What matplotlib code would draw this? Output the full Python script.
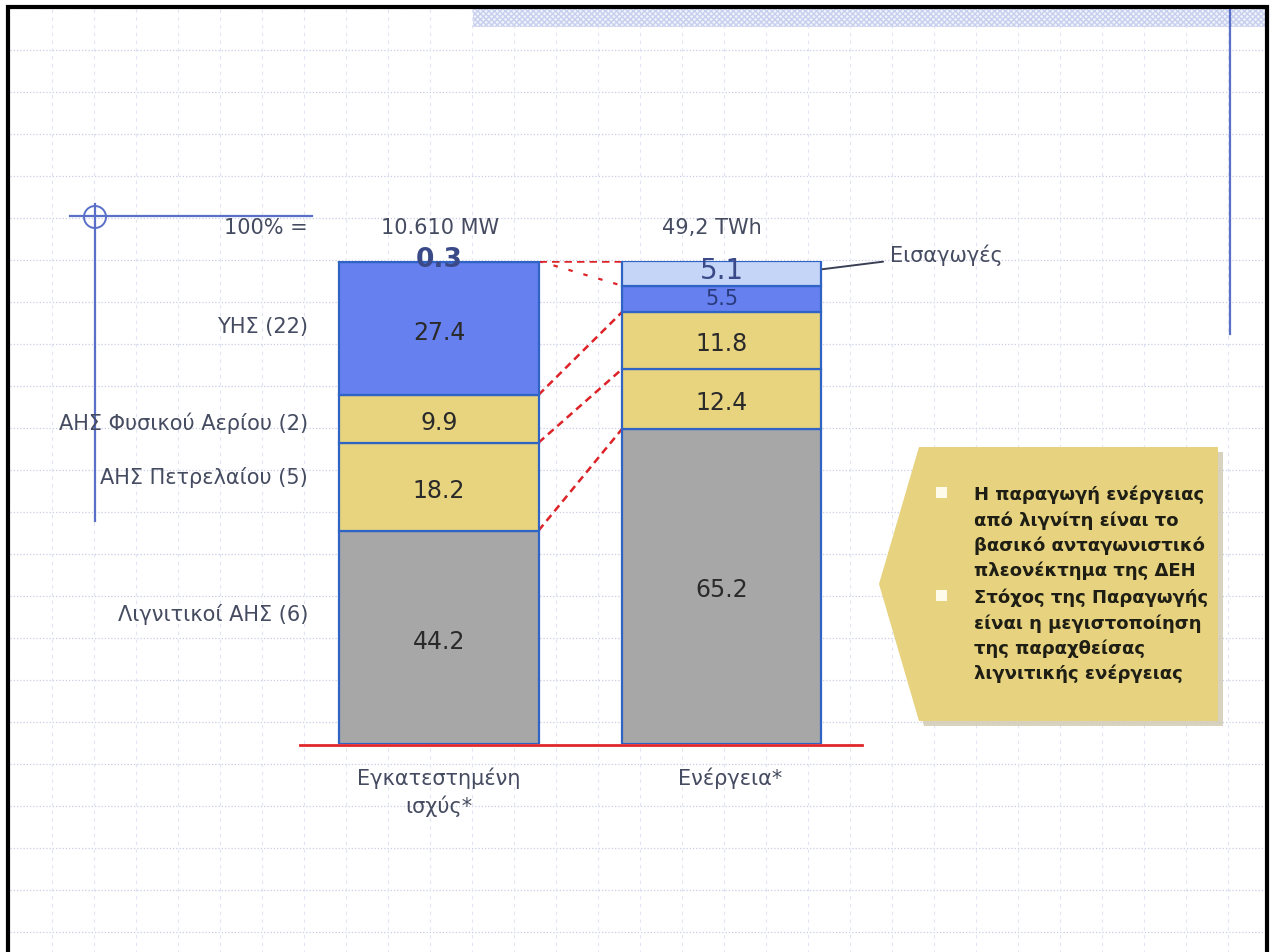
import matplotlib
matplotlib.use("Agg")
import matplotlib.pyplot as plt
from matplotlib.patches import Rectangle, Polygon, Circle
import numpy as np

# ---- data ----
bar_names = ["Εγκατεστημένη\nισχύς*", "Ενέργεια*"]
bar_totals = ["10.610 MW", "49,2 TWh"]
capacity_labels = ["Λιγνιτικοί ΑΗΣ (6)", "ΑΗΣ Πετρελαίου (5)", "ΑΗΣ Φυσικού Αερίου (2)", "ΥΗΣ (22)"]
capacity_values = [44.2, 18.2, 9.9, 27.4, 0.3]
energy_values = [65.2, 12.4, 11.8, 5.5, 5.1]
imports_label = "Εισαγωγές"
callout_bullets = [
    "Η παραγωγή ενέργειας\nαπό λιγνίτη είναι το\nβασικό ανταγωνιστικό\nπλεονέκτημα της ΔΕΗ",
    "Στόχος της Παραγωγής\nείναι η μεγιστοποίηση\nτης παραχθείσας\nλιγνιτικής ενέργειας",
]

W, H = 1274, 953
plt.rcParams['font.family'] = ['DejaVu Sans']
fig = plt.figure(figsize=(W / 100, H / 100), dpi=100)

# background overlay axes in pixel coordinates
bg = fig.add_axes([0, 0, 1, 1])
bg.set_xlim(0, W)
bg.set_ylim(H, 0)
bg.axis("off")

for y in np.arange(9, 950, 42):
    bg.plot([10, 1265], [y, y], color="#c9cde6", lw=0.9, ls=(0, (1.0, 1.6)), zorder=0)
for x in np.arange(52, 1265, 42):
    bg.plot([x, x], [10, 953], color="#e1e4f2", lw=0.8, ls=(0, (3, 4)), zorder=0)

# top hatched band
bg.add_patch(Rectangle((473, 9), 793, 19, facecolor="#f1f3fb", edgecolor="#c6cfee",
                       hatch="xxxxxx", lw=0, zorder=1))
# decorative blue guide lines
gc = "#5a6fc8"
bg.plot([70, 312], [217, 217], color=gc, lw=1.6, zorder=2)
bg.plot([95, 95], [205, 522], color=gc, lw=1.6, zorder=2)
bg.add_patch(Circle((95, 218), 11, fill=False, edgecolor=gc, lw=1.4, zorder=2))
bg.plot([1230, 1230], [9, 335], color=gc, lw=1.6, zorder=2)

# frame (left, top, right)
bg.plot([8, 8, 1267, 1267], [953, 8, 8, 953], color="black", lw=3, zorder=10,
        solid_joinstyle="miter")

# ---- bar axes ----
x0px, x1px = 439.0, 721.5
step = x1px - x0px
left_px, right_px = 300, 862
ax = fig.add_axes([left_px / W, (H - 745) / H, (right_px - left_px) / W, (745 - 262) / H])
ax.set_xlim((left_px - x0px) / step, (right_px - x0px) / step)
ax.set_ylim(0, 100)
ax.axis("off")
ax.patch.set_alpha(0)

def px2x(px):
    return (px - x0px) / step

grey = "#a7a7a7"
yellow = "#e8d47e"
blue = "#6680f0"
light = "#c5d5f7"
edge = "#2f63c4"
cap_colors = [grey, yellow, yellow, blue, blue]
en_colors = [grey, yellow, yellow, blue, light]
bw = 0.705

def stack(xpos, vals, cols):
    bottoms = np.concatenate([[0], np.cumsum(vals)[:-1]])
    ax.bar([xpos] * len(vals), vals, bottom=bottoms, width=bw, color=cols,
           edgecolor=edge, linewidth=1.6, zorder=3)
    return bottoms

cb = stack(0, capacity_values, cap_colors)
eb = stack(1, energy_values, en_colors)

ax.plot([px2x(300), px2x(862)], [-0.2, -0.2], color="#e0282c", lw=2, zorder=6, clip_on=False)

vcol = "#2a2a2a"
dblue = "#283a7a"
vfs = 17
for v, b in zip(capacity_values[:4], cb[:4]):
    ax.text(0, b + v / 2 - 0.7, f"{v}", ha="center", va="center", fontsize=vfs, color=vcol, zorder=5)
ax.text(0, 100.5, f"{capacity_values[4]}", ha="center", va="center", fontsize=19,
        fontweight="bold", color="#3a4a88", zorder=5, clip_on=False)
for v, b in zip(energy_values[:3], eb[:3]):
    ax.text(1, b + v / 2 - 0.5, f"{v}", ha="center", va="center", fontsize=vfs, color=vcol, zorder=5)
ax.text(1, eb[3] + energy_values[3] / 2 + 0.1, f"{energy_values[3]}", ha="center", va="center",
        fontsize=15, color=dblue, zorder=5)
ax.text(1, eb[4] + energy_values[4] / 2 + 0.6, f"{energy_values[4]}", ha="center", va="center",
        fontsize=20, color="#3a4a88", zorder=5)

# red dashed connectors
cap_tops = np.cumsum(capacity_values)
en_tops = np.cumsum(energy_values)
xa, xb = bw / 2, 1 - bw / 2
red = "#dd2228"
pairs = [(cap_tops[0], en_tops[0]), (cap_tops[1], en_tops[1]), (cap_tops[2], en_tops[2])]
for ya, yb in pairs:
    ax.plot([xa, xb], [ya, yb], color=red, lw=1.8, ls=(0, (3, 2)), zorder=2)
ax.plot([xa, xb], [cap_tops[4], en_tops[3]], color=red, lw=1.6, ls=(0, (2, 5)), zorder=2)
ax.plot([xa, xb], [100, 100], color=red, lw=1.8, ls=(0, (3, 2)), zorder=2)

# category labels (left)
lab_col = "#454b60"
lfs = 15
label_y = [27.1, 55.3, 66.7, 86.5]
for lab, y in zip(capacity_labels, label_y):
    ax.text(px2x(308), y, lab, ha="right", va="center", fontsize=lfs, color=lab_col, clip_on=False)

# top totals
ax.text(px2x(308), 107.0, "100% =", ha="right", va="center", fontsize=lfs, color=lab_col, clip_on=False)
for i, t in enumerate(bar_totals):
    ax.text(i * 0.96 + 0.005, 107.0, t, ha="center", va="center", fontsize=lfs, color=lab_col, clip_on=False)

# bar names
ax.text(0, -4.6, bar_names[0], ha="center", va="top", fontsize=lfs, color=lab_col,
        linespacing=1.4, clip_on=False)
ax.text(1.03, -4.6, bar_names[1], ha="center", va="top", fontsize=lfs, color=lab_col, clip_on=False)

# imports annotation
ax.annotate(imports_label, xy=(1 + bw / 2 + 0.005, 98.3),
            xytext=(px2x(890), 101.5), textcoords="data",
            fontsize=lfs, color=lab_col, va="center", ha="left",
            arrowprops=dict(arrowstyle="-", color="#3a3f55", lw=1.4, shrinkA=3, shrinkB=0),
            annotation_clip=False)

# ---- callout box ----
shadow = Polygon([(884, 590), (924, 453), (1223, 453), (1223, 727), (924, 727)], closed=True,
                 facecolor="#cfc8b0", edgecolor="none", zorder=5, alpha=0.8)
bg.add_patch(shadow)
box = Polygon([(879, 585), (919, 448), (1218, 448), (1218, 722), (919, 722)], closed=True,
              facecolor="#e6d27f", edgecolor="none", zorder=6)
bg.add_patch(box)
for i, txt in enumerate(callout_bullets):
    y0 = 495 + i * 103
    bg.add_patch(Rectangle((936, y0 - 7), 11, 11, facecolor="#fffbea", edgecolor="none", zorder=7))
    for k, line in enumerate(txt.split("\n")):
        bg.text(974, y0 + k * 25.3, line, ha="left", va="center", fontsize=13, fontweight="bold",
                color="#1e1e14", zorder=7)

fig.savefig("out.png", dpi=100)
